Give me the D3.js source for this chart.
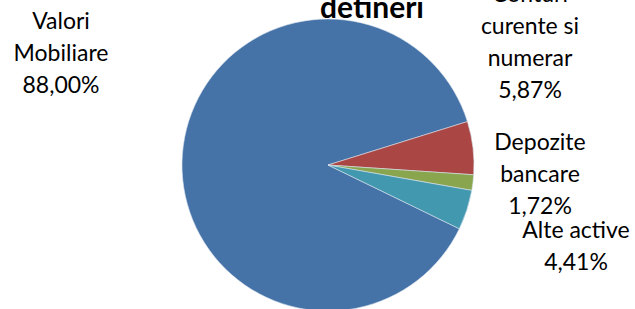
<!DOCTYPE html>
<html>
<head>
<meta charset="utf-8">
<script src="https://cdn.jsdelivr.net/npm/d3@7"></script>
<style>
  body { margin: 0; background: #fff; }
  svg { display: block; }
  text { font-family: Lato, "Open Sans", sans-serif; fill: #000; }
</style>
</head>
<body>
<svg id="chart" width="635" height="309"></svg>
<script>
const categories = ['Valori Mobiliare', 'Conturi curente si numerar', 'Depozite bancare', 'Alte active']
const values = [88.00, 5.87, 1.72, 4.41]
const valueLabels = ['88,00%', '5,87%', '1,72%', '4,41%']
const colors = ['#4572A7', '#AA4643', '#89A54E', '#4198AF']
// label lines as they wrap in the picture
const labelLines = [
    ['Valori', 'Mobiliare', '88,00%'],
    ['Conturi', 'curente si', 'numerar', '5,87%'],
    ['Depozite', 'bancare', '1,72%'],
    ['Alte active', '4,41%']
]
const labelPos = [
    { x: 61, y: 29 },
    { x: 530, y: 2 },
    { x: 540, y: 150 },
    { x: 576, y: 238 }
]

const width = 635
const height = 309
const cx = 328
const cy = 165
const radius = 146
const lineHeight = 32

const svg = d3.select('#chart')

// first slice ends where the red one starts (~72.7deg clockwise from top)
const start = (72.7 - 360 * values[0] / 100) * Math.PI / 180
const pie = d3.pie().sort(null).startAngle(start).endAngle(start + 2 * Math.PI)
const arc = d3.arc().innerRadius(0).outerRadius(radius)

const g = svg.append('g').attr('transform', `translate(${cx},${cy})`)

g.selectAll('path')
    .data(pie(values))
    .enter()
    .append('path')
    .attr('d', arc)
    .attr('fill', (d, i) => colors[i])
    .attr('stroke', '#d9e2ef')
    .attr('stroke-width', 0.6)

// title (upper line is cut off in the source)
svg.append('text')
    .attr('x', 372)
    .attr('y', 18)
    .attr('text-anchor', 'middle')
    .style('font-size', '30px')
    .style('font-weight', 'bold')
    .text('detineri')

labelLines.forEach((lines, i) => {
    const t = svg.append('text')
        .attr('text-anchor', 'middle')
        .style('font-size', '23px')
    lines.forEach((l, j) => {
        t.append('tspan')
            .attr('x', labelPos[i].x)
            .attr('y', labelPos[i].y + j * lineHeight)
            .text(l)
    })
})
</script>
</body>
</html>
